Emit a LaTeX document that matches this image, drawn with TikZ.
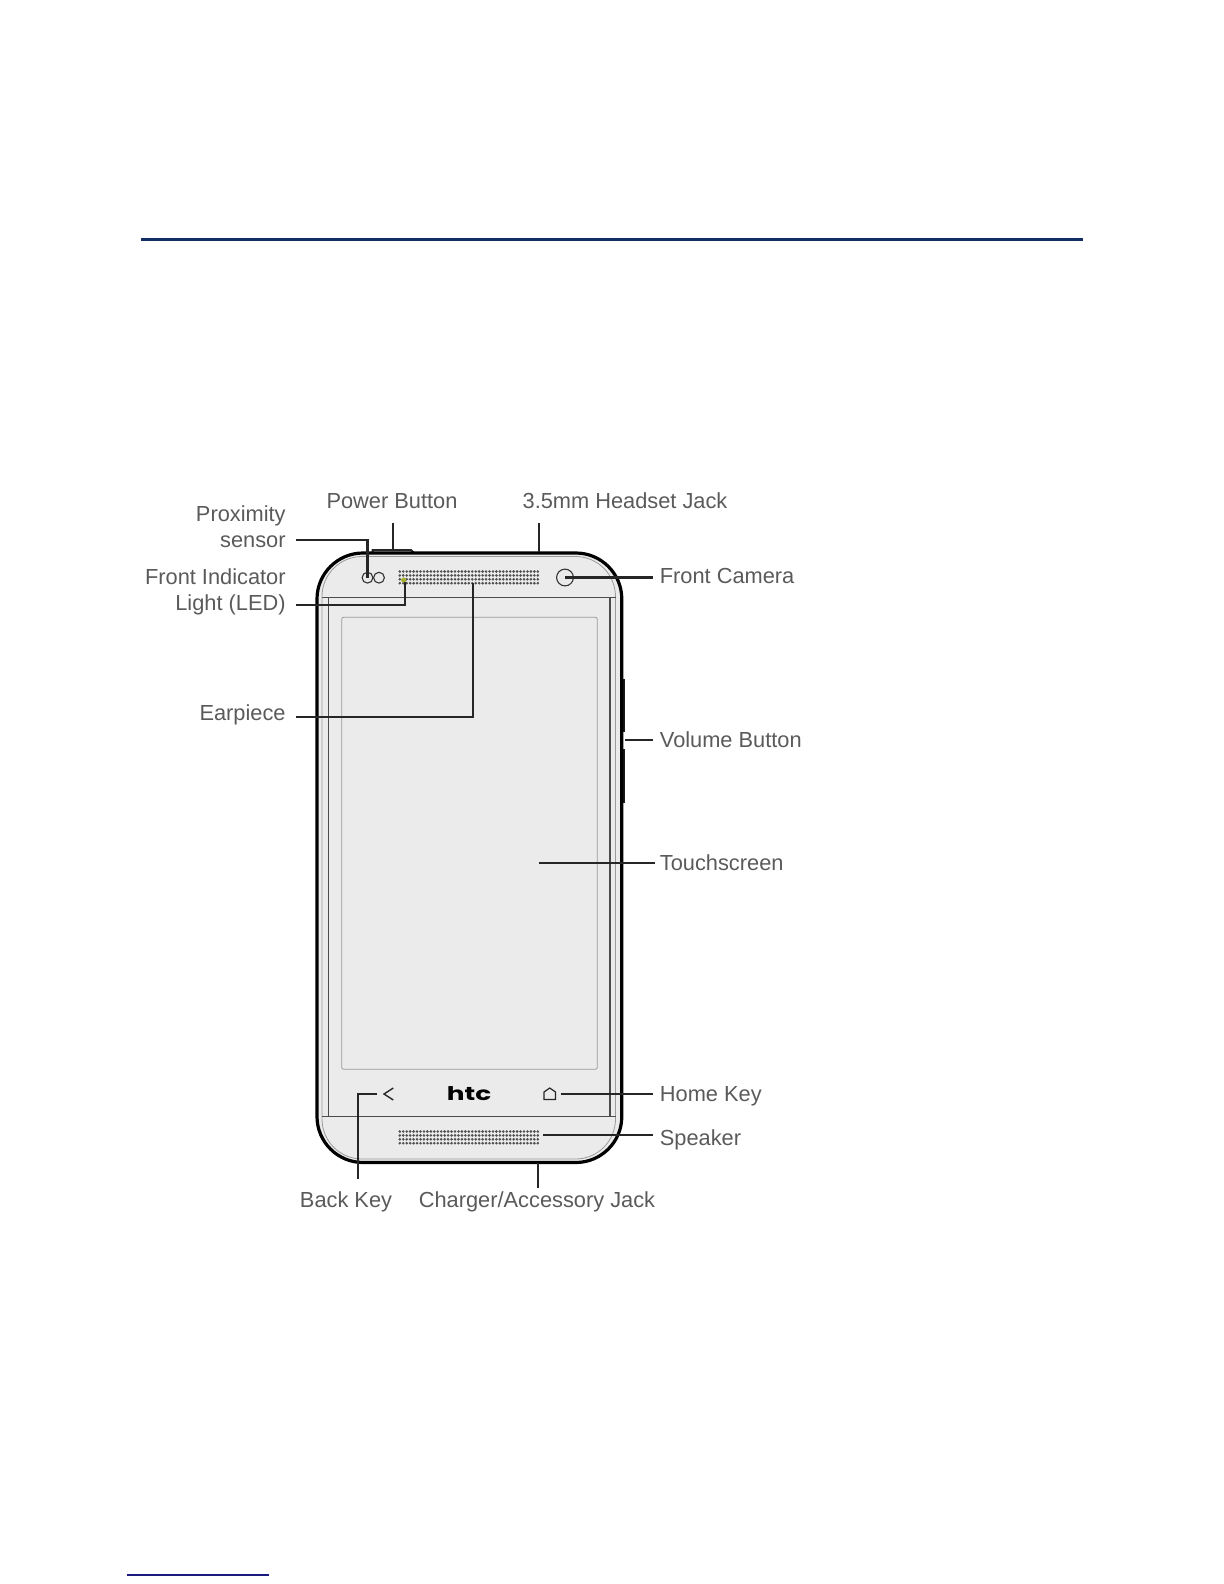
\documentclass[tikz,border=0pt]{standalone}
\usepackage{fontspec}
\setmainfont{Liberation Sans}
\newfontfamily\logofont{Poppins}
\usepackage{xcolor}
\usetikzlibrary{positioning,calc}
\definecolor{labelgray}{HTML}{5A5A5A}
\definecolor{panelgray}{HTML}{EBEBEB}
\definecolor{rimgray}{HTML}{9A9A9A}
\definecolor{dotgray}{HTML}{505050}
\definecolor{rulenavy}{HTML}{0F3060}
\definecolor{noteblue}{HTML}{1A1A80}
\definecolor{ledgreen}{HTML}{A8B030}
\newcommand{\speakergrill}[1]{%
  \foreach \col in {0,...,40}
    \foreach \row in {0,...,3}
      \fill[dotgray] (399.8+\col*3.45,#1+\row*3.9) circle (0.72pt);}

\begin{document}
\begin{tikzpicture}[
  x=0.5pt, y=-0.5pt,
  callout/.style={font=\fontsize{10.9}{13}\selectfont, text=labelgray, inner sep=0pt, align=right},
  leader/.style={line width=1.05pt, black!85},
  thinrim/.style={line width=0.4pt, rimgray},
  darkrim/.style={line width=0.55pt, black!70},
  sensor/.style={draw, circle, line width=0.55pt, black!80, inner sep=0pt},
]
\useasboundingbox (0,0) rectangle (1224,1584);

\coordinate (ruleL) at (141,239.3);
\coordinate (ruleR) at (1083,239.3);
\draw[line width=1.5pt, rulenavy] (ruleL) -- (ruleR);
\coordinate (noteL) at (127,1575.3);
\coordinate (noteR) at (269,1575.3);
\draw[line width=1pt, noteblue] (noteL) -- (noteR);

% buttons under the shell
\draw[line width=1pt, black!85, fill=white] (372.7,553) -- (372.7,550) -- (411,550) -- (414,553);
\draw[line width=1.2pt, black!90] (623.8,679) -- (623.8,732);
\draw[line width=1.2pt, black!90] (623.8,749) -- (623.8,803);

% shell
\draw[line width=1.6pt, black, fill=panelgray, rounded corners=23pt] (317,553) rectangle (621.8,1162.5);
\draw[thinrim, fill=panelgray, rounded corners=20pt] (322,556.5) rectangle (615.5,1159);
\draw[darkrim] (322,597.3) -- (615.5,597.3);
\draw[darkrim] (322,1116.7) -- (615.5,1116.7);
\draw[darkrim] (328.5,597.3) -- (328.5,1116.7);
\draw[darkrim] (610,597.3) -- (610,1116.7);
\draw[thinrim, rounded corners=1pt] (341.7,617.3) rectangle (597.3,1069.3);

% grilles
\speakergrill{571.5}
\speakergrill{1131.5}
\fill[ledgreen] (403.7,580) circle (1.3pt);

% sensors and keys
\node[sensor, minimum size=5.4pt] (proxA) at (367.5,577.7) {};
\node[sensor, minimum size=5.4pt] (proxB) at (379,577.7) {};
\node[sensor, minimum size=8.4pt] (cam) at (565,577.5) {};
\node[font=\logofont\bfseries\fontsize{9.4}{11}\selectfont, xscale=1.4, inner sep=0pt] (logo) at (469,1093.5) {htc};
\draw[line width=0.7pt, black!85] (393.3,1088) -- (384,1094) -- (393.3,1100);
\draw[line width=0.6pt, black!85] (544,1099.5) -- (544,1092) -- (549.7,1088) -- (555.5,1092) -- (555.5,1099.5) -- cycle;

% labels
\node[callout, anchor=south east] (lblProx) at (286,548.5) {Proximity\\sensor};
\node[callout, anchor=south east] (lblLed) at (286,615.5) {Front Indicator\\Light (LED)};
\node[callout, anchor=base east] (lblEar) at (286,720.5) {Earpiece};
\node[callout, anchor=base] (lblPower) at (392,508.3) {Power Button};
\node[callout, anchor=base] (lblJack) at (625,508.3) {3.5mm Headset Jack};
\node[callout, anchor=base west] (lblCam) at (659.5,583.5) {Front Camera};
\node[callout, anchor=base west] (lblVol) at (659.5,747.5) {Volume Button};
\node[callout, anchor=base west] (lblTouch) at (659.5,870.5) {Touchscreen};
\node[callout, anchor=base west] (lblHome) at (659.5,1101) {Home Key};
\node[callout, anchor=base west] (lblSpk) at (659.5,1145) {Speaker};
\node[callout, anchor=base] (lblBack) at (346,1207) {Back Key};
\node[callout, anchor=base] (lblCharger) at (537,1207) {Charger/Accessory Jack};

% leader ends
\coordinate (proxOut) at (296,540);
\coordinate (ledOut) at (296,605);
\coordinate (ledIn) at (405,582);
\coordinate (earOut) at (296,716.7);
\coordinate (earIn) at (472.7,583);
\coordinate (powerTop) at (392.7,523);
\coordinate (powerBot) at (392.7,549.5);
\coordinate (jackTop) at (539.3,523);
\coordinate (jackBot) at (539.3,552);
\coordinate (camOut) at (653,577.5);
\coordinate (volIn) at (625,740);
\coordinate (volOut) at (653,740);
\coordinate (touchIn) at (539,862.7);
\coordinate (touchOut) at (655,862.7);
\coordinate (homeIn) at (560.7,1094);
\coordinate (homeOut) at (653,1094);
\coordinate (spkIn) at (543,1135);
\coordinate (spkOut) at (653,1135);
\coordinate (backIn) at (377.3,1094);
\coordinate (backOut) at (358.3,1179.3);
\coordinate (chgTop) at (538,1163.3);
\coordinate (chgBot) at (538,1187.7);

\draw[leader] (proxOut) -| (proxA.center);
\draw[leader] (ledOut) -| (ledIn);
\draw[leader] (earOut) -| (earIn);
\draw[leader] (powerTop) -- (powerBot);
\draw[leader] (jackTop) -- (jackBot);
\draw[leader] (cam.center) -- (camOut);
\draw[leader] (volIn) -- (volOut);
\draw[leader] (touchIn) -- (touchOut);
\draw[leader] (homeIn) -- (homeOut);
\draw[leader] (spkIn) -- (spkOut);
\draw[leader] (backIn) -| (backOut);
\draw[leader] (chgTop) -- (chgBot);

\end{tikzpicture}
\end{document}
